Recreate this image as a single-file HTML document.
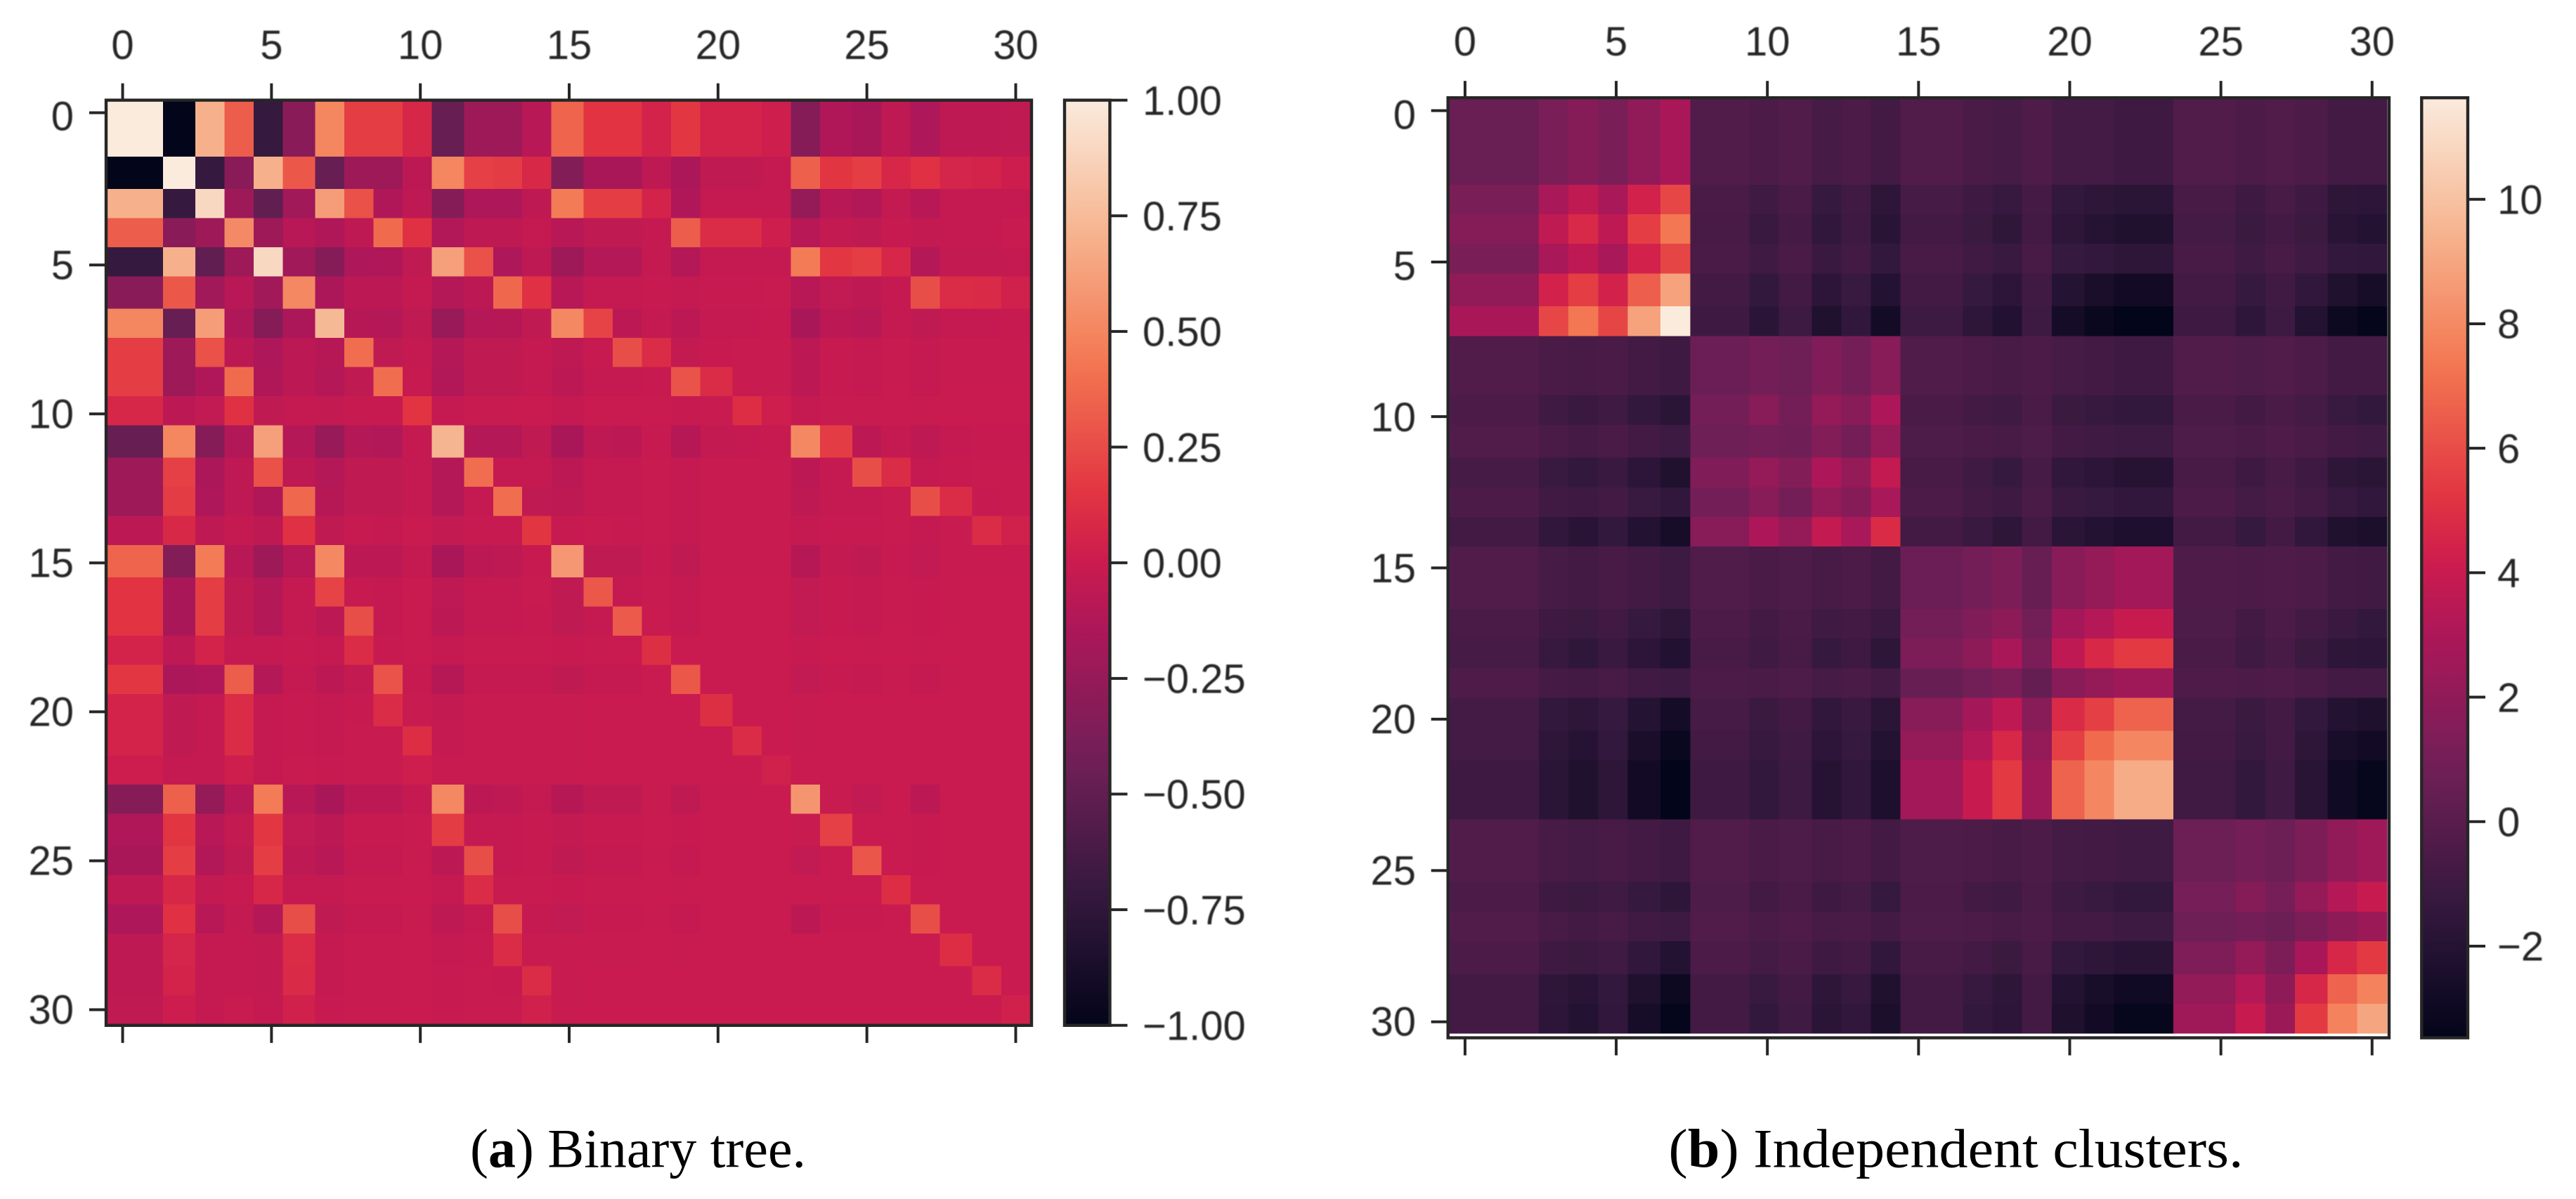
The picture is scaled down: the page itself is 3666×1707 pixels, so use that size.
<!DOCTYPE html>
<html lang="en">
<head>
<meta charset="utf-8">
<title>Binary tree and independent clusters heatmaps</title>
<style>
html,body{margin:0;padding:0;background:#fff;}
svg{display:block;}
.tick-text{font-family:"Liberation Sans",Arial,sans-serif;font-size:58px;fill:#262626;}
.caption{font-family:"Liberation Serif","Times New Roman",serif;font-size:78px;fill:#000;}
</style>
</head>
<body>
<svg id="figure" xmlns="http://www.w3.org/2000/svg" width="3666" height="1707" viewBox="0 0 3666 1707">
<defs>
<filter id="soften" x="-5%" y="-5%" width="110%" height="110%"><feGaussianBlur stdDeviation="0.9"/></filter>
<linearGradient id="rocket-gradient" x1="0" y1="1" x2="0" y2="0"></linearGradient>
</defs>
<rect x="0" y="0" width="3666" height="1707" fill="#ffffff"/>
<text class="caption" x="669" y="1661.7" textLength="478" lengthAdjust="spacingAndGlyphs">(<tspan font-weight="bold">a</tspan>) Binary tree.</text>
<text class="caption" x="2374.5" y="1661.7" textLength="818" lengthAdjust="spacingAndGlyphs">(<tspan font-weight="bold">b</tspan>) Independent clusters.</text>
</svg>
<script>
const indexTicks=[0,5,10,15,20,25,30];
const indexLabels=['0','5','10','15','20','25','30'];
const colorbarATicks=[1,0.75,0.5,0.25,0,-0.25,-0.5,-0.75,-1];
const colorbarALabels=['1.00','0.75','0.50','0.25','0.00','\u22120.25','\u22120.50','\u22120.75','\u22121.00'];
const colorbarBTicks=[10,8,6,4,2,0,-2];
const colorbarBLabels=['10','8','6','4','2','0','\u22122'];
const rocketStops=[[0,'#03051a'],[0.1429,'#35193e'],[0.2857,'#701f57'],[0.4286,'#ad1759'],[0.5,'#cb1b4f'],[0.5714,'#e13342'],[0.7143,'#f37651'],[0.8571,'#f6b48f'],[1,'#faebdd']];

const binaryTreeValues=[
[1,1,-1,.70,.32,-.71,-.31,.50,.19,.19,.07,-.47,-.22,-.22,-.09,.35,.14,.14,.05,.16,.05,.05,.02,-.33,-.13,-.16,-.06,-.14,-.06,-.06,-.05],
[1,1,-1,.70,.32,-.71,-.31,.50,.19,.19,.07,-.47,-.22,-.22,-.09,.35,.14,.14,.05,.16,.05,.05,.02,-.33,-.13,-.16,-.06,-.14,-.06,-.06,-.05],
[-1,-1,1,-.71,-.31,.70,.30,-.47,-.22,-.22,-.07,.50,.20,.18,.08,-.34,-.16,-.16,-.06,-.15,-.05,-.05,-.03,.34,.15,.19,.07,.13,.06,.05,.01],
[.70,.70,-.71,.90,-.22,-.50,-.20,.61,.27,-.13,-.06,-.33,-.14,-.14,-.06,.45,.19,.19,.05,-.13,-.035,-.035,-.03,-.26,-.09,-.12,-.04,-.09,-.03,-.03,-.03],
[.32,.32,-.31,-.22,.52,-.22,-.09,-.13,-.06,.38,.13,-.12,-.06,-.06,-.03,-.09,-.05,-.05,-.03,.32,.10,.10,.015,-.09,-.04,-.05,-.02,-.04,-.03,-.03,-.015],
[-.71,-.71,.70,-.50,-.22,.90,-.20,-.33,-.14,-.13,-.05,.62,.27,-.14,-.06,-.22,-.11,-.11,-.035,-.11,-.035,-.035,-.03,.45,.16,.19,.07,-.11,-.04,-.04,-.03],
[-.31,-.31,.30,-.20,-.09,-.20,.51,-.15,-.07,-.07,-.03,-.11,-.07,.37,.13,-.09,-.03,-.03,-.02,-.03,-.02,-.02,-.015,-.09,-.045,-.06,-.03,.26,.10,.09,.03],
[.50,.50,-.47,.61,-.13,-.33,-.15,.74,-.10,-.11,-.05,-.24,-.11,-.10,-.05,.51,.21,-.07,-.03,-.07,-.03,-.03,-.02,-.16,-.07,-.09,-.035,-.05,-.03,-.03,-.02],
[.19,.19,-.22,.27,-.07,-.14,-.07,-.10,.39,-.05,-.03,-.11,-.05,-.05,-.03,-.06,-.02,.26,.10,-.04,-.02,-.015,-.015,-.07,-.02,-.03,-.015,-.03,-.015,-.015,-.015],
[.19,.19,-.22,-.13,.38,-.13,-.07,-.11,-.05,.39,-.02,-.12,-.05,-.05,-.03,-.07,-.03,-.03,-.02,.28,.10,-.015,-.015,-.07,-.02,-.03,-.015,-.03,-.015,-.015,-.015],
[.07,.07,-.07,-.045,.13,-.05,-.03,-.04,-.02,-.02,.14,-.03,-.015,-.015,-.01,-.03,-.01,-.01,-.01,-.02,-.015,.11,.02,-.03,-.015,-.015,-.01,-.015,-.01,-.01,-.01],
[-.47,-.47,.50,-.33,-.12,.62,-.11,-.24,-.11,-.12,-.03,.72,-.11,-.11,-.05,-.16,-.06,-.07,-.02,-.10,-.04,-.03,-.02,.51,.18,-.07,-.03,-.06,-.03,-.02,-.02],
[-.22,-.22,.20,-.15,-.06,.27,-.06,-.11,-.05,-.05,-.03,-.11,.39,-.035,-.03,-.07,-.03,-.03,-.015,-.035,-.015,-.015,-.015,-.07,-.03,.26,.10,-.03,-.02,-.015,-.015],
[-.22,-.22,.18,-.14,-.06,-.13,.37,-.10,-.05,-.05,-.03,-.11,-.035,.39,-.05,-.06,-.03,-.03,-.015,-.035,-.015,-.015,-.015,-.06,-.03,-.03,-.015,.26,.10,-.02,-.015],
[-.07,-.07,.08,-.06,-.03,-.06,.13,-.05,-.02,-.03,-.01,-.04,-.02,-.02,.15,-.02,-.015,-.02,-.015,-.03,-.015,-.015,-.015,-.035,-.02,-.02,-.015,-.03,-.015,.10,.03],
[.35,.35,-.34,.45,-.09,-.22,-.09,.51,-.07,-.07,-.03,-.16,-.07,-.06,-.02,.58,-.05,-.05,-.02,-.05,-.015,-.015,-.015,-.10,-.04,-.05,-.02,-.045,-.015,-.015,-.015],
[.14,.14,-.16,.19,-.05,-.11,-.03,.21,-.02,-.03,-.01,-.06,-.03,-.03,-.015,-.05,.30,-.03,-.015,-.03,-.01,-.01,-.01,-.045,-.02,-.03,-.015,-.02,-.015,-.01,-.01],
[.14,.14,-.16,.19,-.05,-.11,-.03,-.07,.26,-.03,-.01,-.07,-.03,-.03,-.02,-.05,-.03,.31,-.01,-.03,-.01,-.01,-.01,-.045,-.02,-.03,-.015,-.02,-.015,-.01,-.01],
[.05,.05,-.06,.05,-.03,-.035,-.02,-.03,.10,-.02,-.01,-.03,-.015,-.015,-.015,-.02,-.015,-.01,.12,-.01,-.01,-.01,-.01,-.02,-.01,-.015,-.01,-.015,-.01,-.01,-.01],
[.16,.16,-.15,-.13,.32,-.11,-.03,-.07,-.04,.28,-.02,-.10,-.035,-.035,-.03,-.05,-.03,-.03,-.01,.30,-.01,-.01,-.01,-.045,-.025,-.03,-.015,-.03,-.015,-.01,-.01],
[.05,.05,-.05,-.035,.10,-.035,-.02,-.03,-.02,.10,-.015,-.04,-.015,-.015,-.015,-.015,-.01,-.01,-.01,-.01,.12,-.01,-.01,-.015,-.01,-.01,-.01,-.01,-.01,-.01,-.01],
[.05,.05,-.05,-.035,.10,-.035,-.02,-.03,-.015,-.015,.11,-.03,-.015,-.015,-.015,-.015,-.01,-.01,-.01,-.01,-.01,.10,-.01,-.015,-.01,-.01,-.01,-.01,-.01,-.01,-.01],
[.01,.01,-.03,-.03,.015,-.03,-.015,-.02,-.015,-.015,.02,-.015,-.015,-.015,-.015,-.015,-.01,-.01,-.01,-.01,-.01,-.01,.03,-.01,-.01,-.01,-.01,-.01,-.01,-.01,-.01],
[-.33,-.33,.34,-.26,-.09,.45,-.09,-.16,-.07,-.07,-.03,.51,-.07,-.06,-.035,-.10,-.05,-.05,-.015,-.05,-.015,-.015,-.01,.57,-.015,-.045,-.01,-.07,-.01,-.01,-.01],
[-.13,-.13,.15,-.09,-.04,.16,-.045,-.07,-.02,-.02,-.015,.18,-.03,-.03,-.02,-.04,-.02,-.02,-.01,-.025,-.01,-.01,-.01,-.015,.20,-.01,-.01,-.02,-.01,-.01,-.01],
[-.16,-.16,.19,-.12,-.05,.19,-.06,-.09,-.03,-.03,-.015,-.07,.26,-.03,-.02,-.05,-.03,-.03,-.015,-.03,-.01,-.01,-.01,-.045,-.01,.29,-.01,-.02,-.01,-.01,-.01],
[-.06,-.06,.07,-.04,-.02,.07,-.03,-.035,-.015,-.015,-.01,-.03,.10,-.015,-.015,-.02,-.015,-.015,-.01,-.015,-.01,-.01,-.01,-.01,-.01,-.01,.11,-.01,-.01,-.01,-.01],
[-.14,-.14,.13,-.09,-.04,-.11,.26,-.05,-.03,-.03,-.015,-.06,-.03,.26,-.03,-.045,-.02,-.02,-.015,-.03,-.01,-.01,-.01,-.07,-.02,-.02,-.01,.26,-.01,-.01,-.01],
[-.06,-.06,.06,-.03,-.03,-.04,.10,-.03,-.015,-.015,-.01,-.03,-.02,.10,-.015,-.015,-.015,-.015,-.01,-.015,-.01,-.01,-.01,-.01,-.01,-.01,-.01,-.01,.11,-.01,-.01],
[-.06,-.06,.05,-.03,-.03,-.04,.09,-.03,-.015,-.015,-.01,-.02,-.015,-.02,.10,-.015,-.01,-.01,-.01,-.01,-.01,-.01,-.01,-.01,-.01,-.01,-.01,-.01,-.01,.10,-.01],
[-.05,-.05,.01,-.03,-.015,-.03,.03,-.02,-.015,-.015,-.01,-.02,-.015,-.015,.03,-.015,-.01,-.01,-.01,-.01,-.01,-.01,-.01,-.01,-.01,-.01,-.01,-.01,-.01,-.01,.03]
];

const clusterValues=[
[.6,.6,.6,1.2,1.6,1.2,2,2.9,-.3,-.3,-.48,-.27,-.7,-.45,-.85,-.27,-.27,-.5,-.7,-.35,-.75,-.75,-.98,-.98,-.27,-.27,-.45,-.27,-.45,-.85,-.85],
[.6,.6,.6,1.2,1.6,1.2,2,2.9,-.3,-.3,-.48,-.27,-.7,-.45,-.85,-.27,-.27,-.5,-.7,-.35,-.75,-.75,-.98,-.98,-.27,-.27,-.45,-.27,-.45,-.85,-.85],
[.6,.6,.6,1.2,1.6,1.2,2,2.9,-.3,-.3,-.48,-.27,-.7,-.45,-.85,-.27,-.27,-.5,-.7,-.35,-.75,-.75,-.98,-.98,-.27,-.27,-.45,-.27,-.45,-.85,-.85],
[1.2,1.2,1.2,2.85,3.7,2.85,4.4,5.8,-.55,-.55,-.95,-.55,-1.3,-.9,-1.65,-.7,-.7,-1,-1.25,-.72,-1.45,-1.65,-1.75,-1.75,-.65,-.65,-1,-.65,-1,-1.6,-1.7],
[1.6,1.6,1.6,3.7,4.7,3.65,5.5,7.35,-.65,-.65,-1.15,-.72,-1.5,-1,-1.8,-.8,-.8,-1.1,-1.55,-.8,-1.65,-1.95,-2.2,-2.2,-.75,-.75,-1.1,-.8,-1.1,-1.85,-2.05],
[1.2,1.2,1.2,2.85,3.65,2.85,4.4,5.75,-.55,-.55,-.95,-.55,-1.15,-.85,-1.4,-.65,-.65,-.9,-1.15,-.65,-1.3,-1.45,-1.65,-1.65,-.65,-.65,-.95,-.65,-.95,-1.4,-1.5],
[2,2,2,4.4,5.5,4.4,6.55,8.85,-.8,-.8,-1.4,-.85,-1.7,-1.2,-2.1,-.85,-.85,-1.3,-1.7,-.9,-2,-2.45,-2.8,-2.8,-.85,-.85,-1.3,-.9,-1.5,-2.2,-2.6],
[2.9,2.9,2.9,5.8,7.35,5.75,8.85,11.63,-1,-1,-1.75,-1.05,-2.2,-1.5,-2.75,-1.05,-1.05,-1.6,-2.15,-1.05,-2.7,-3.15,-3.47,-3.47,-1,-1,-1.6,-1.05,-2.1,-3.05,-3.4],
[-.3,-.3,-.3,-.55,-.65,-.55,-.8,-1,.65,.65,1,.72,1.4,1,1.65,-.33,-.33,-.48,-.65,-.48,-.7,-.8,-1,-1,-.3,-.3,-.4,-.3,-.48,-.8,-.85],
[-.3,-.3,-.3,-.55,-.65,-.55,-.8,-1,.65,.65,1,.72,1.4,1,1.65,-.33,-.33,-.48,-.65,-.48,-.7,-.8,-1,-1,-.3,-.3,-.4,-.3,-.48,-.8,-.85],
[-.48,-.48,-.48,-.95,-1.15,-.95,-1.4,-1.75,1,1,1.65,1,2.1,1.65,3,-.55,-.55,-.8,-.95,-.55,-1.1,-1.25,-1.45,-1.45,-.55,-.55,-.8,-.5,-.75,-1.2,-1.4],
[-.27,-.27,-.27,-.55,-.72,-.55,-.85,-1.05,.72,.72,1,.8,1.5,1,2.15,-.4,-.4,-.55,-.65,-.4,-.8,-.95,-1.05,-1.05,-.4,-.4,-.5,-.38,-.55,-.8,-.95],
[-.7,-.7,-.7,-1.2,-1.4,-1.15,-1.7,-2.2,1.4,1.4,2.1,1.5,3,2.1,3.8,-.6,-.6,-.95,-1.3,-.7,-1.5,-1.7,-1.95,-1.95,-.6,-.6,-1,-.65,-1,-1.6,-1.75],
[-.45,-.45,-.45,-.9,-1,-.85,-1.2,-1.5,1,1,1.65,1,2.1,1.6,2.85,-.48,-.48,-.8,-1,-.55,-1.15,-1.3,-1.5,-1.5,-.48,-.48,-.75,-.55,-.8,-1.25,-1.5],
[-.85,-.85,-.85,-1.5,-1.8,-1.4,-2.1,-2.6,1.65,1.65,3,2.15,3.8,2.85,4.8,-.8,-.8,-1.15,-1.65,-.85,-1.75,-2.1,-2.35,-2.35,-.8,-.8,-1.3,-.8,-1.5,-2.2,-2.4],
[-.3,-.3,-.3,-.7,-.8,-.65,-.85,-1.05,-.33,-.33,-.55,-.4,-.6,-.48,-.8,.65,.65,1,1.3,.5,1.65,2.15,2.6,2.6,-.35,-.35,-.48,-.35,-.48,-.8,-.9],
[-.3,-.3,-.3,-.7,-.8,-.65,-.85,-1.05,-.33,-.33,-.55,-.4,-.6,-.48,-.8,.65,.65,1,1.3,.5,1.65,2.15,2.6,2.6,-.35,-.35,-.48,-.35,-.48,-.8,-.9],
[-.5,-.5,-.5,-1,-1.1,-.9,-1.3,-1.6,-.48,-.48,-.8,-.55,-.95,-.8,-1.15,1,1,1.4,1.85,.95,2.7,3.3,3.95,3.95,-.4,-.4,-.8,-.45,-.85,-1.15,-1.4],
[-.7,-.7,-.7,-1.25,-1.55,-1.15,-1.7,-2.15,-.65,-.65,-.95,-.65,-1.3,-1,-1.65,1.3,1.3,1.85,2.9,1.25,3.65,4.65,5.35,5.35,-.55,-.55,-.95,-.6,-1.1,-1.6,-1.7],
[-.35,-.35,-.35,-.72,-.8,-.65,-.9,-1.05,-.48,-.48,-.55,-.4,-.7,-.55,-.85,.5,.5,.95,1.25,.4,1.65,2.1,2.5,2.5,-.35,-.35,-.45,-.38,-.55,-.8,-.85],
[-.75,-.75,-.75,-1.45,-1.65,-1.3,-2,-2.7,-.7,-.7,-1.1,-.8,-1.5,-1.15,-1.75,1.65,1.65,2.7,3.65,1.65,4.75,5.55,6.7,6.7,-.75,-.75,-1.1,-.85,-1.45,-2.1,-2.25],
[-.75,-.75,-.75,-1.65,-1.95,-1.45,-2.45,-3.15,-.8,-.8,-1.25,-.95,-1.7,-1.3,-2.1,2.15,2.15,3.3,4.65,2.1,5.55,6.95,7.9,7.9,-.8,-.8,-1.2,-.85,-1.6,-2.5,-2.8],
[-.98,-.98,-.98,-1.75,-2.2,-1.65,-2.8,-3.47,-1,-1,-1.45,-1.05,-1.95,-1.5,-2.35,2.6,2.6,3.95,5.35,2.5,6.7,7.9,9.2,9.2,-.9,-.9,-1.45,-.95,-1.8,-2.9,-3.35],
[-.98,-.98,-.98,-1.75,-2.2,-1.65,-2.8,-3.47,-1,-1,-1.45,-1.05,-1.95,-1.5,-2.35,2.6,2.6,3.95,5.35,2.5,6.7,7.9,9.2,9.2,-.9,-.9,-1.45,-.95,-1.8,-2.9,-3.35],
[-.3,-.3,-.3,-.65,-.75,-.65,-.85,-1,-.3,-.3,-.55,-.4,-.6,-.48,-.8,-.4,-.4,-.45,-.6,-.45,-.75,-.8,-.95,-.95,.7,.7,1,.7,1.3,2,2.5],
[-.3,-.3,-.3,-.65,-.75,-.65,-.85,-1,-.3,-.3,-.55,-.4,-.6,-.48,-.8,-.4,-.4,-.45,-.6,-.45,-.75,-.8,-.95,-.95,.7,.7,1,.7,1.3,2,2.5],
[-.45,-.45,-.45,-1,-1.1,-.95,-1.3,-1.6,-.4,-.4,-.8,-.5,-1,-.75,-1.3,-.48,-.48,-.8,-.95,-.55,-1.05,-1.2,-1.45,-1.45,1.05,1.05,1.6,1.05,2.1,3.3,3.95],
[-.27,-.27,-.27,-.65,-.8,-.65,-.9,-1.05,-.3,-.3,-.5,-.38,-.65,-.55,-.8,-.4,-.4,-.48,-.6,-.48,-.8,-.85,-1.05,-1.05,.72,.72,1,.7,1.3,1.85,2.4],
[-.45,-.45,-.45,-1,-1.1,-.95,-1.5,-2.1,-.48,-.48,-.75,-.55,-1,-.8,-1.5,-.6,-.6,-.85,-1.1,-.6,-1.45,-1.6,-1.8,-1.8,1.35,1.35,2.1,1.3,2.9,4.6,5.35],
[-.85,-.85,-.85,-1.6,-1.85,-1.4,-2.2,-3.05,-.8,-.8,-1.2,-.8,-1.6,-1.25,-2.2,-.8,-.8,-1.25,-1.65,-.8,-2.05,-2.5,-2.9,-2.9,2.05,2.05,3.3,1.9,4.6,6.7,7.75],
[-.85,-.85,-.85,-1.7,-2.05,-1.5,-2.6,-3.4,-.85,-.85,-1.4,-.95,-1.75,-1.5,-2.4,-.85,-.85,-1.4,-1.7,-.85,-2.25,-2.8,-3.35,-3.35,2.5,2.5,3.95,2.4,5.35,7.75,8.95]
];

const SVGNS='http://www.w3.org/2000/svg';
const svg=document.getElementById('figure');
const INK='#262626';

function hexToRgb(h){return [parseInt(h.slice(1,3),16),parseInt(h.slice(3,5),16),parseInt(h.slice(5,7),16)];}
function rocket(t){
  t=Math.max(0,Math.min(1,t));
  for(let i=1;i<rocketStops.length;i++){
    if(t<=rocketStops[i][0]){
      const a=rocketStops[i-1],b=rocketStops[i];
      const f=(t-a[0])/(b[0]-a[0]);
      const ca=hexToRgb(a[1]),cb=hexToRgb(b[1]);
      return 'rgb('+ca.map((c,k)=>Math.round(c+(cb[k]-c)*f)).join(',')+')';
    }
  }
  return rocketStops[rocketStops.length-1][1];
}
function make(tag,attrs,parent){
  const el=document.createElementNS(SVGNS,tag);
  for(const k in attrs){el.setAttribute(k,attrs[k]);}
  (parent||svg).appendChild(el);
  return el;
}
/* The source raster was coarse: cell borders and ticks fall on its pixel grid. */
const SOURCE_PIXELS_PER_CELL=9.226;
function cellEdge(i){return Math.floor(SOURCE_PIXELS_PER_CELL*i+0.46);}
function tickPixel(v,phase){return Math.floor(phase+SOURCE_PIXELS_PER_CELL*v)+0.5;}

const grad=document.getElementById('rocket-gradient');
for(let i=0;i<=40;i++){
  const s=document.createElementNS(SVGNS,'stop');
  s.setAttribute('offset',(i/40).toString());
  s.setAttribute('stop-color',rocket(i/40));
  grad.appendChild(s);
}

function spineBox(g,l,t,r,b,name){
  const box=make('rect',{x:l,y:t,width:r-l,height:b-t,fill:'none',stroke:INK,'stroke-width':4.4},g);
  
  
}
function tickMark(g,x1,y1,x2,y2,name){
  const m=make('line',{x1:x1,y1:y1,x2:x2,y2:y2,stroke:INK,'stroke-width':4},g);
  
  
}
function tickText(g,x,y,anchor,str,name){
  const t=make('text',{x:x,y:y,'text-anchor':anchor,class:'tick-text',filter:'url(#soften)'},g);
  t.textContent=str;
  
  
}

function drawHeatmap(cfg){
  const g=make('g',{});
  
  
  const clipId=cfg.name+'-clip';
  const defs=make('clipPath',{id:clipId},g);
  make('rect',{x:cfg.left,y:cfg.top,width:cfg.right-cfg.left,height:cfg.bottom-cfg.top},defs);
  const cells=make('g',{'clip-path':'url(#'+clipId+')','shape-rendering':'crispEdges'},g);
  const xEdge=i=>cfg.x0+cfg.px*cellEdge(i);
  const yEdge=i=>cfg.y0+cfg.py*cellEdge(i);
  const colorOf=v=>rocket((v-cfg.vmin)/(cfg.vmax-cfg.vmin));
  cfg.values.forEach((row,r)=>{
    row.forEach((v,c)=>{
      const cell=make('rect',{x:xEdge(c),y:yEdge(r),width:xEdge(c+1)-xEdge(c)+0.5,height:yEdge(r+1)-yEdge(r)+0.5,fill:colorOf(v)},cells);
      
      
    });
  });
  spineBox(g,cfg.left,cfg.top,cfg.right,cfg.bottom,cfg.name+'-frame');
  const xTick=v=>cfg.x0+cfg.px*tickPixel(v,cfg.xPhase);
  const yTick=v=>cfg.y0+cfg.py*tickPixel(v,cfg.yPhase);
  indexTicks.forEach((v,i)=>{
    const x=xTick(v),y=yTick(v);
    tickMark(g,x,cfg.top-24,x,cfg.top-2,cfg.name+'-top-tick-'+v);
    tickMark(g,x,cfg.bottom+2,x,cfg.bottom+25,cfg.name+'-bottom-tick-'+v);
    tickMark(g,cfg.left-24,y,cfg.left-2,y,cfg.name+'-left-tick-'+v);
    tickText(g,x,cfg.xLabelBase,'middle',indexLabels[i],cfg.name+'-x-label-'+v);
    tickText(g,cfg.yLabelRight,cfg.yLabelZero+cfg.yLabelStep*v+21,'end',indexLabels[i],cfg.name+'-y-label-'+v);
  });
  // colorbar
  const bar=make('g',{},g);
  
  
  const ramp=make('rect',{x:cfg.barLeft,y:cfg.top,width:cfg.barRight-cfg.barLeft,height:cfg.bottom-cfg.top,fill:'url(#rocket-gradient)'},bar);
  
  
  spineBox(bar,cfg.barLeft,cfg.top,cfg.barRight,cfg.bottom,cfg.name+'-colorbar-frame');
  const barY=v=>cfg.barBottomY-(v-cfg.vmin)*cfg.barScale;
  cfg.barTicks.forEach((v,i)=>{
    const y=barY(v);
    tickMark(bar,cfg.barRight+2,y,cfg.barRight+25,y,cfg.name+'-colorbar-tick-'+i);
    tickText(bar,cfg.barLabelX,y+20.7,'start',cfg.barLabels[i],cfg.name+'-colorbar-label-'+i);
  });
}

drawHeatmap({
  name:'binary-tree',values:binaryTreeValues,vmin:-1,vmax:1,
  x0:149.2,px:4.605,y0:139.8,py:4.61,
  left:151,right:1468,top:142.6,bottom:1459.8,
  xPhase:5.2,yPhase:4.9,xLabelBase:84,yLabelRight:105,yLabelZero:164.5,yLabelStep:42.4,
  barLeft:1515,barRight:1579.5,barBottomY:1459.8,barScale:658.6,
  barTicks:colorbarATicks,barLabels:colorbarALabels,barLabelX:1626
});
drawHeatmap({
  name:'independent-clusters',values:clusterValues,vmin:-3.47,vmax:11.63,
  x0:2059.2,px:4.677,y0:131.8,py:4.683,
  left:2060.7,right:3400,top:139.2,bottom:1477.5,
  xPhase:5.2,yPhase:5.8,xLabelBase:79,yLabelRight:2015,yLabelZero:162.5,yLabelStep:43.03,
  barLeft:3446.3,barRight:3512,barBottomY:1477.2,barScale:88.6,
  barTicks:colorbarBTicks,barLabels:colorbarBLabels,barLabelX:3554
});
</script>
</body>
</html>
